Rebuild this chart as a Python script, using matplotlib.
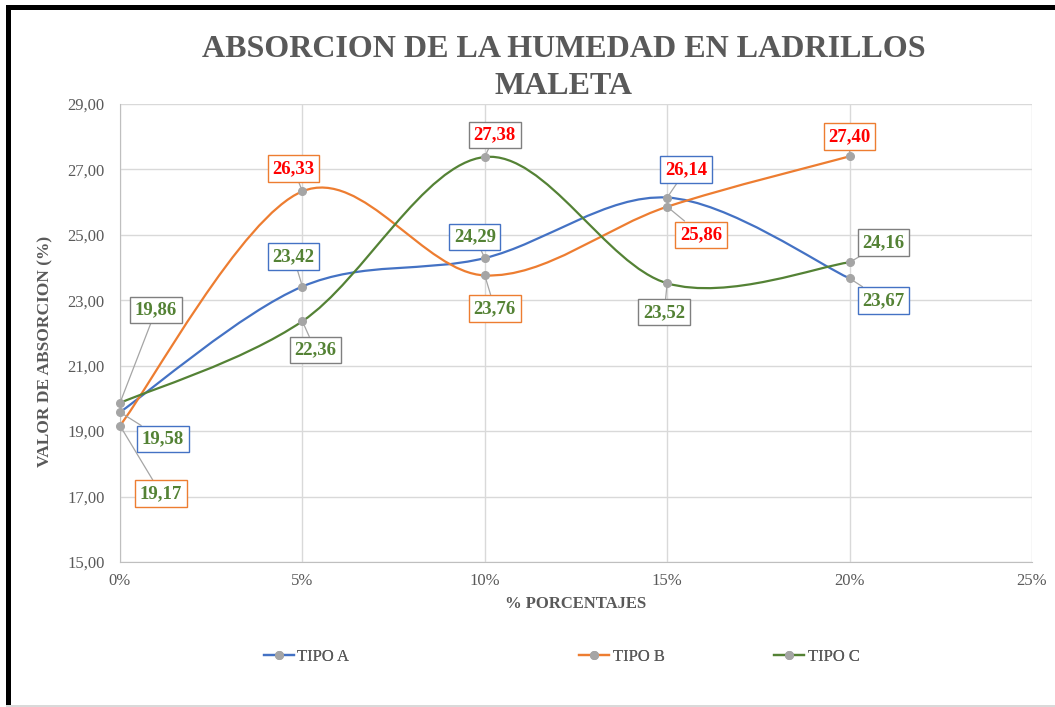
import matplotlib
matplotlib.use("Agg")
import matplotlib.pyplot as plt
from matplotlib.path import Path
from matplotlib.patches import PathPatch, Rectangle
from matplotlib.lines import Line2D

plt.rcParams['font.family'] = ['Liberation Serif', 'DejaVu Serif']

# datos
porcentajes = [0, 5, 10, 15, 20]
tipo_a = [19.58, 23.42, 24.29, 26.14, 23.67]
tipo_b = [19.17, 26.33, 23.76, 25.86, 27.40]
tipo_c = [19.86, 22.36, 27.38, 23.52, 24.16]
series = ["TIPO A", "TIPO B", "TIPO C"]
y_ticks = [15, 17, 19, 21, 23, 25, 27, 29]
x_ticks = [0, 5, 10, 15, 20, 25]

# estilos
colores = ["#4472C4", "#ED7D31", "#548235"]
bordes = ["#4472C4", "#ED7D31", "#7F7F7F"]
gris = "#595959"
# desplazamiento de las etiquetas (pixeles)
offsets = [
    [(43, -27), (-9, 30), (-10, 21), (19, 28), (34, -22)],
    [(41, -68), (-9, 23), (10, -33), (34, -28), (0, 20)],
    [(36, 93), (13, -29), (10, 22), (-3, -29), (34, 20)],
]
# posicion x de cada entrada de la leyenda (fraccion de la figura)
leyenda_x = [0.250, 0.549, 0.734]


def curva_suave(x, y):
    # curva tipo Excel (Catmull-Rom convertida a Bezier)
    pts = list(zip(x, y))
    n = len(pts)
    verts = [pts[0]]
    codes = [Path.MOVETO]
    for i in range(n - 1):
        p0 = pts[max(i - 1, 0)]
        p1 = pts[i]
        p2 = pts[i + 1]
        p3 = pts[min(i + 2, n - 1)]
        c1 = (p1[0] + (p2[0] - p0[0]) / 6, p1[1] + (p2[1] - p0[1]) / 6)
        c2 = (p2[0] - (p3[0] - p1[0]) / 6, p2[1] - (p3[1] - p1[1]) / 6)
        verts += [c1, c2, p2]
        codes += [Path.CURVE4] * 3
    return Path(verts, codes)


fig = plt.figure(figsize=(10.55, 7.07), dpi=100)
ax = fig.add_axes([0.1137, 0.2051, 0.8645, 0.6478])

handles = []
for nombre, valores, col, borde, offs in zip(series, [tipo_a, tipo_b, tipo_c], colores, bordes, offsets):
    ax.add_patch(PathPatch(curva_suave(porcentajes, valores), facecolor="none",
                           edgecolor=col, lw=1.6, zorder=3))
    ax.plot(porcentajes, valores, "o", ms=5.5, color="#A5A5A5", zorder=4, clip_on=False)
    handles.append(Line2D([], [], color=col, lw=1.6, marker="o", ms=5.5,
                          mfc="#A5A5A5", mec="#A5A5A5"))
    for xv, yv, (dx, dy) in zip(porcentajes, valores, offs):
        txt_col = "#FF0000" if yv > 25 else "#548235"
        ax.annotate(f"{yv:.2f}".replace(".", ","), (xv, yv),
                    xytext=(dx * 0.72, dy * 0.72), textcoords="offset points",
                    ha="center", va="center", fontsize=13.5, fontweight="bold",
                    color=txt_col, zorder=6,
                    bbox=dict(boxstyle="square,pad=0.25", fc="white", ec=borde, lw=1),
                    arrowprops=dict(arrowstyle="-", color="#A5A5A5", lw=0.9,
                                    shrinkA=0, shrinkB=0))

ax.set_xlim(0, 25)
ax.set_ylim(15, 29)
ax.set_xticks(x_ticks)
ax.set_xticklabels([f"{t}%" for t in x_ticks])
ax.set_yticks(y_ticks)
ax.set_yticklabels([f"{t:.2f}".replace(".", ",") for t in y_ticks])
ax.tick_params(length=0, labelsize=12, labelcolor=gris)
ax.tick_params(axis="y", pad=11)
ax.tick_params(axis="x", pad=8)
ax.grid(True, color="#D9D9D9", lw=1)
ax.set_axisbelow(True)
for lado in ["top", "right"]:
    ax.spines[lado].set_visible(False)
for lado in ["left", "bottom"]:
    ax.spines[lado].set_color("#BFBFBF")

ax.set_xlabel("% PORCENTAJES", fontsize=12, fontweight="bold", color=gris)
ax.set_ylabel("VALOR DE ABSORCION (%)", fontsize=12.5, fontweight="bold", color=gris)
ax.xaxis.set_label_coords(0.5, -0.074)
ax.yaxis.set_label_coords(-0.073, 0.46)

fig.text(0.534, 0.904, "ABSORCION DE LA HUMEDAD EN LADRILLOS\nMALETA",
         ha="center", va="center", fontsize=23, fontweight="bold", color=gris,
         linespacing=1.35)

for h, nombre, lx in zip(handles, series, leyenda_x):
    leg = fig.legend([h], [nombre], loc="center left", bbox_to_anchor=(lx, 0.0707),
                     frameon=False, fontsize=12, labelcolor=gris, handlelength=1.8,
                     handletextpad=0.2, borderpad=0, borderaxespad=0)
    fig.add_artist(leg)

# marco de la captura
fig.add_artist(Rectangle((6 / 1055, 0), 5 / 1055, 1 - 5 / 707, transform=fig.transFigure,
                         color="black", lw=0))
fig.add_artist(Rectangle((6 / 1055, 1 - 10 / 707), 1, 5 / 707, transform=fig.transFigure,
                         color="black", lw=0))
fig.add_artist(Rectangle((6 / 1055, 0), 1, 2 / 707, transform=fig.transFigure,
                         color="#D9D9D9", lw=0))

fig.savefig("out.png", dpi=100)
